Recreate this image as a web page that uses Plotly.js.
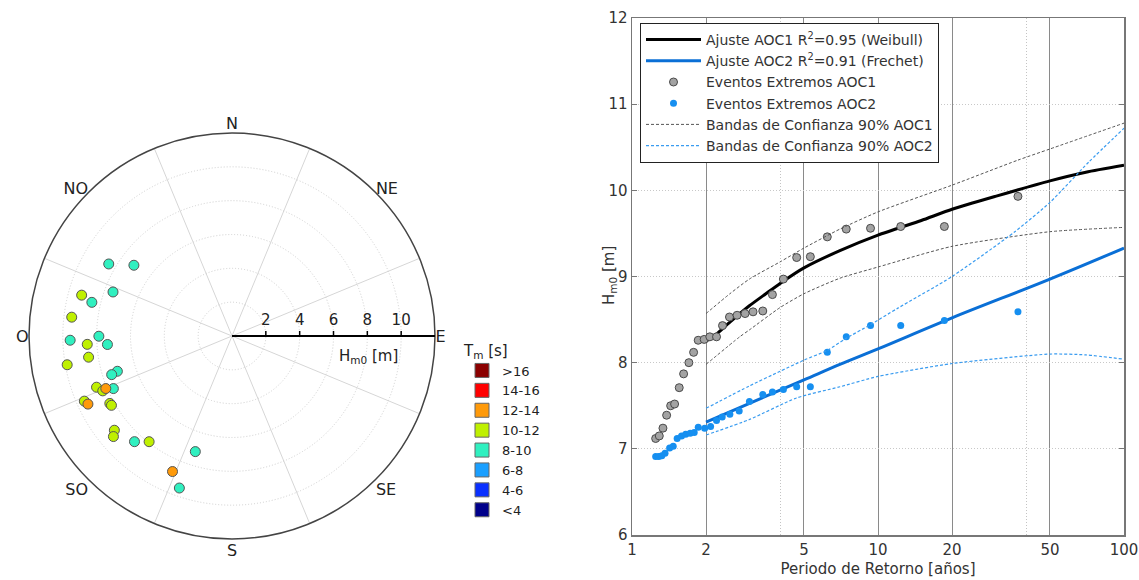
<!DOCTYPE html>
<html><head><meta charset="utf-8">
<script src="https://cdn.plot.ly/plotly-3.0.1.min.js"></script>
<style>html,body{margin:0;padding:0;background:#fff}</style>
</head><body><div id="chart" style="width:1139px;height:580px"></div>
<script>
// ---------- Polar (rose) data: direction (deg from N, clockwise), Hm0 (m), Tm class ----------
const dirDeg = [300.3,305.8,290.3,285.2,283.5,276.7,268.5,269.9,266.7,266.1,261.6,260.1,252.9,252.2,249.3,247.0,247.4,246.1,246.2,244.7,241.1,240.1,231.3,229.7,222.7,218.1,197.6,203.7,199.1];
const hm0    = [8.44,7.15,7.50,9.21,8.52,9.54,9.57,7.87,8.57,7.38,8.57,9.89,7.09,7.47,8.56,8.30,8.08,7.67,9.54,9.42,8.25,8.22,8.91,9.19,8.50,7.94,7.17,8.75,9.51];
const tmClass= ['8-10','8-10','8-10','10-12','8-10','10-12','8-10','8-10','10-12','8-10','10-12','10-12','8-10','8-10','10-12','10-12','12-14','8-10','10-12','12-14','10-12','10-12','10-12','10-12','8-10','10-12','8-10','12-14','8-10'];
const tmCategories = ['>16','14-16','12-14','10-12','8-10','6-8','4-6','<4'];
const tmColors     = ['#8b0000','#ff0000','#ff9a0a','#bff000','#30f0c0','#1a9fff','#0a30ff','#00008b'];
const compassLabels = ['N','NE','E','SE','S','SO','O','NO'];
const compassAngles = [0,45,90,135,180,225,270,315];
const sectorLines   = [22.5,67.5,112.5,157.5,202.5,247.5,292.5,337.5];
const radialTicks   = [2,4,6,8,10];

// ---------- Return period data ----------
const aoc1T = [1.248,1.291,1.336,1.383,1.436,1.490,1.556,1.621,1.703,1.780,1.858,1.965,2.072,2.206,2.333,2.490,2.674,2.882,3.105,3.401,3.722,4.125,4.671,5.309,6.221,7.430,9.324,12.37,18.61,37.06];
const aoc1H = [7.12,7.15,7.24,7.39,7.50,7.52,7.71,7.87,8.00,8.12,8.26,8.27,8.30,8.30,8.43,8.53,8.55,8.57,8.59,8.60,8.79,8.97,9.22,9.23,9.46,9.55,9.56,9.58,9.58,9.93];
const aoc2T = [1.248,1.285,1.322,1.362,1.422,1.471,1.526,1.590,1.653,1.724,1.790,1.859,1.974,2.087,2.206,2.326,2.499,2.727,3.001,3.401,3.722,4.125,4.671,5.309,6.221,7.430,9.324,12.37,18.61,37.06];
const aoc2H = [6.91,6.91,6.92,6.95,7.01,7.03,7.12,7.15,7.17,7.18,7.19,7.25,7.24,7.26,7.33,7.37,7.40,7.44,7.55,7.63,7.66,7.69,7.72,7.72,8.12,8.30,8.43,8.43,8.49,8.59];

const fit1T = [2,2.2,2.5,3,3.5,4,5,7,10,15,20,30,50,70,100];
const fit1H = [8.25,8.33,8.47,8.66,8.80,8.92,9.10,9.30,9.48,9.65,9.78,9.93,10.11,10.21,10.29];
const fit2T = [2,5,7,10,20,50,100];
const fit2H = [7.31,7.80,7.98,8.16,8.52,8.97,9.33];
const band1UpT = [2,2.5,3,4,5,7,10,20,37,50,100];
const band1UpH = [8.57,8.80,8.97,9.17,9.33,9.55,9.75,10.06,10.35,10.48,10.78];
const band1LoT = [2,2.74,3,4,5,7,10,20,50,100];
const band1LoH = [7.98,8.30,8.38,8.64,8.80,8.98,9.11,9.35,9.52,9.57];
const band2UpT = [2,3,4,5,6.2,7.4,9.3,12,20,36,50,72,100];
const band2UpH = [7.47,7.73,7.90,8.03,8.14,8.28,8.44,8.63,9.00,9.52,9.86,10.33,10.72];
const band2LoT = [2,3,4.66,7,10,20,50,70,100];
const band2LoH = [7.16,7.34,7.59,7.72,7.84,7.99,8.10,8.09,8.04];
const xTicks = [1,2,5,10,20,50,100];

const FONT = 'DejaVu Sans, sans-serif';
const traces = [];

// right chart traces (legend 1)
traces.push({type:'scatter', x:fit1T, y:fit1H, mode:'lines', line:{color:'#000', width:3, shape:'spline', smoothing:0.6},
  name:'Ajuste AOC1 R<sup>2</sup>=0.95 (Weibull)', xaxis:'x', yaxis:'y', legend:'legend'});
traces.push({type:'scatter', x:fit2T, y:fit2H, mode:'lines', line:{color:'#0a6fd6', width:3, shape:'spline', smoothing:1},
  name:'Ajuste AOC2 R<sup>2</sup>=0.91 (Frechet)', xaxis:'x', yaxis:'y', legend:'legend'});
traces.push({type:'scatter', x:aoc1T, y:aoc1H, mode:'markers', marker:{size:8, color:'#a3a3a3', line:{color:'#4a4a4a', width:1}},
  name:'Eventos Extremos AOC1', xaxis:'x', yaxis:'y', legend:'legend'});
traces.push({type:'scatter', x:aoc2T, y:aoc2H, mode:'markers', marker:{size:7, color:'#168ff0'},
  name:'Eventos Extremos AOC2', xaxis:'x', yaxis:'y', legend:'legend'});
traces.push({type:'scatter', x:band1UpT, y:band1UpH, mode:'lines', line:{color:'#555', width:1, dash:'3px,2px', shape:'spline', smoothing:0.6},
  name:'Bandas de Confianza 90% AOC1', legendgroup:'b1', xaxis:'x', yaxis:'y', legend:'legend'});
traces.push({type:'scatter', x:band1LoT, y:band1LoH, mode:'lines', line:{color:'#555', width:1, dash:'3px,2px', shape:'spline', smoothing:0.6},
  name:'b1lo', legendgroup:'b1', showlegend:false, xaxis:'x', yaxis:'y'});
traces.push({type:'scatter', x:band2UpT, y:band2UpH, mode:'lines', line:{color:'#3a9cf0', width:1.2, dash:'3px,2px', shape:'spline', smoothing:0.6},
  name:'Bandas de Confianza 90% AOC2', legendgroup:'b2', xaxis:'x', yaxis:'y', legend:'legend'});
traces.push({type:'scatter', x:band2LoT, y:band2LoH, mode:'lines', line:{color:'#3a9cf0', width:1.2, dash:'3px,2px', shape:'spline', smoothing:0.6},
  name:'b2lo', legendgroup:'b2', showlegend:false, xaxis:'x', yaxis:'y'});

// polar data traces per class
['10-12','8-10','12-14'].forEach(cls => {
  const idx = tmClass.map((c,i)=>c===cls?i:-1).filter(i=>i>=0);
  traces.push({type:'scatterpolar', subplot:'polar', mode:'markers',
    r: idx.map(i=>hm0[i]), theta: idx.map(i=>dirDeg[i]),
    marker:{size:10, color: tmColors[tmCategories.indexOf(cls)], line:{color:'#555', width:1}},
    showlegend:false, name:cls, hoverinfo:'r+theta'});
});
// legend entries for Tm classes
tmCategories.forEach((cls,k) => {
  traces.push({type:'scatterpolar', subplot:'polar', mode:'markers', r:[null], theta:[null],
    marker:{size:14, symbol:'square', color: tmColors[k], line:{color:'#666', width:1}},
    name: cls, legend:'legend2', showlegend:true});
});
// dummy for compass label subplot
traces.push({type:'scatterpolar', subplot:'polar2', mode:'markers', r:[null], theta:[null], showlegend:false});

const polarDomain = {x:[29/1139, 435/1139], y:[1-539/580, 1-133/580]};

const layout = {
  width:1139, height:580,
  margin:{l:0, r:0, t:0, b:0},
  paper_bgcolor:'#fff', plot_bgcolor:'#fff',
  font:{family:FONT, size:15, color:'#222'},
  showlegend:true,
  polar:{
    domain: polarDomain, bgcolor:'#fff',
    angularaxis:{rotation:90, direction:'clockwise', tickvals:sectorLines, showticklabels:false, ticks:'',
      showgrid:true, gridcolor:'#d6d6d6', gridwidth:1, showline:true, linecolor:'#444', linewidth:1.5},
    radialaxis:{range:[0,12], angle:0, tickvals:radialTicks, showgrid:true, gridcolor:'#cfcfcf', griddash:'1px,2px',
      showline:true, linecolor:'#000', linewidth:2, ticks:'outside', ticklen:4, tickcolor:'#000', tickwidth:1.5,
      side:'counterclockwise', tickfont:{size:15, color:'#222'}, tickangle:0}
  },
  polar2:{
    domain: polarDomain, bgcolor:'rgba(0,0,0,0)',
    angularaxis:{rotation:90, direction:'clockwise', tickvals:compassAngles, ticktext:compassLabels,
      showgrid:false, showline:false, ticks:'', tickfont:{size:16, color:'#222'}},
    radialaxis:{visible:false, range:[0,12]}
  },
  xaxis:{type:'log', range:[0,2], domain:[632/1139, 1124/1139], anchor:'y',
    tickvals:xTicks, ticktext:xTicks.map(String), showgrid:true, gridcolor:'#8a8a8a', gridwidth:1,
    minor:{tickvals:[4,40], showgrid:true, gridcolor:'#c4c4c4', griddash:'1px,2px', ticks:''},
    showline:true, linecolor:'#777', linewidth:1.5, mirror:true, ticks:'', zeroline:false,
    tickfont:{size:15, color:'#333'},
    title:{text:'Periodo de Retorno [años]', font:{size:15, color:'#333'}, standoff:6}},
  yaxis:{range:[6,12], domain:[1-535/580, 1-18/580], anchor:'x', dtick:1,
    showgrid:true, gridcolor:'#c8c8c8', griddash:'1px,2px', gridwidth:1,
    showline:true, linecolor:'#777', linewidth:1.5, mirror:'ticks', ticks:'inside', ticklen:5, tickcolor:'#777',
    zeroline:false, tickfont:{size:15, color:'#333'},
    title:{text:''}},
  legend:{x:640/1139, y:1-23/580, xanchor:'left', yanchor:'top', bgcolor:'#fff', bordercolor:'#222', borderwidth:1,
    font:{size:14, color:'#333'}, itemwidth:55, tracegroupgap:0, traceorder:'normal'},
  legend2:{x:462/1139, y:1-336/580, xanchor:'left', yanchor:'top', bgcolor:'rgba(0,0,0,0)', borderwidth:0,
    font:{size:13, color:'#222'}, itemwidth:30, tracegroupgap:0,
    title:{text:'T<sub>m</sub> [s]', font:{size:15, color:'#222'}, side:'top'}},
  annotations:[
    {text:'H<sub>m0</sub> [m]', xref:'paper', yref:'paper', x:368/1139, y:1-356/580,
     showarrow:false, font:{size:15, color:'#222'}, xanchor:'center', yanchor:'middle'},
    {text:'H<sub>m0</sub> [m]', xref:'paper', yref:'paper', x:609/1139, y:1-276/580, textangle:-90,
     showarrow:false, font:{size:15, color:'#333'}, xanchor:'center', yanchor:'middle'}
  ]
};

Plotly.newPlot('chart', traces, layout, {displayModeBar:false, staticPlot:true});
</script></body></html>
